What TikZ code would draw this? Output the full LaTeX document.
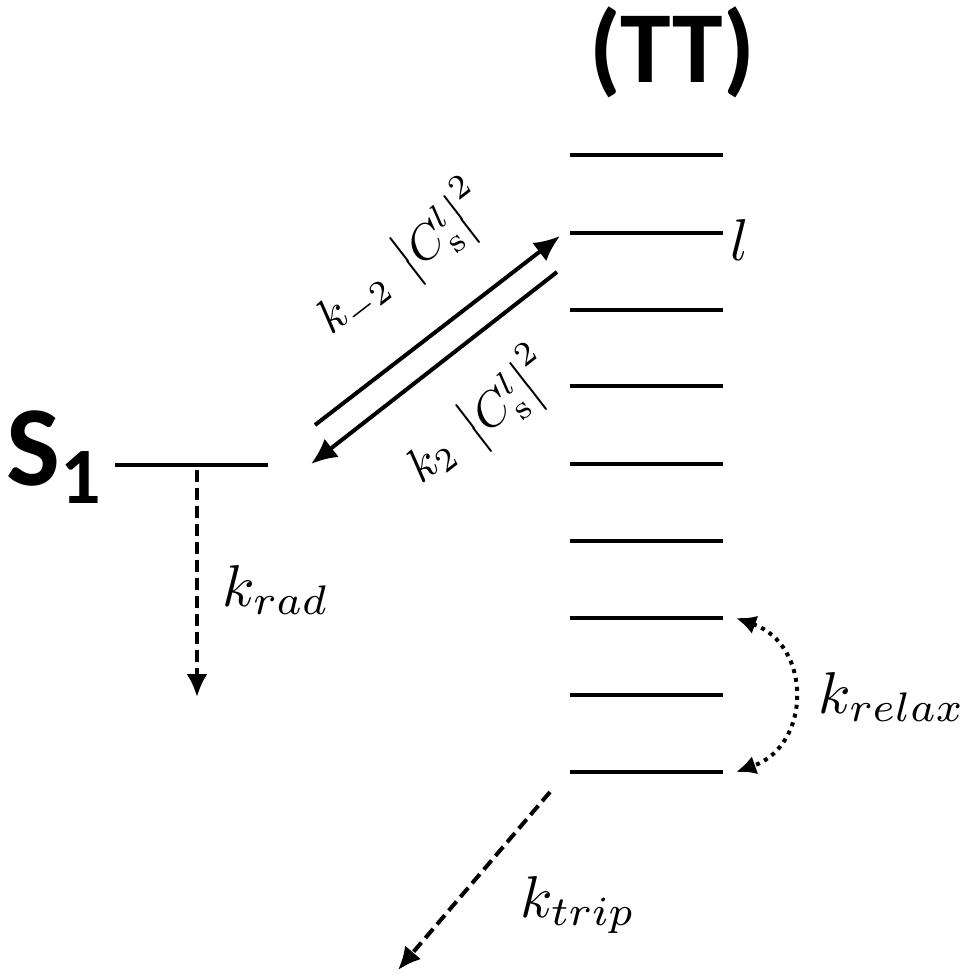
\documentclass[tikz,border=0pt]{standalone}
\usepackage{fontspec}
\newfontfamily\calib{Carlito}
\usetikzlibrary{arrows.meta}
\newcommand{\bigmlab}[1]{\scalebox{5.9}{$#1$}}
\tikzset{
  level/.style={line width=4pt},
  solidarrow/.style={line width=4pt,-{Latex[length=26pt,width=23pt]}},
  dasharrow/.style={line width=4pt,dash pattern=on 12pt off 6pt,-{Latex[length=23pt,width=21pt]}},
  dotarrow/.style={line width=4pt,dash pattern=on 4pt off 5pt,{Latex[length=20pt,width=19pt]}-{Latex[length=20pt,width=19pt]}},
  mlabel/.style={inner sep=0pt},
  dlabel/.style={inner sep=0pt,rotate=37.7},
}
\begin{document}
\begin{tikzpicture}[x=1pt,y=-1pt]
\useasboundingbox (0,0) rectangle (974,978);
% TT levels
\foreach \i/\yy in {1/155,2/233,3/310,4/386,5/464,6/541,7/618,8/695,9/772}{
  \coordinate (L\i a) at (570,\yy);
  \coordinate (L\i b) at (723,\yy);
  \draw[level] (L\i a) -- (L\i b);
}
% S1 level
\coordinate (S1a) at (115,465);
\coordinate (S1b) at (268,465);
\draw[level] (S1a) -- (S1b);
\node[inner sep=0pt,anchor=base west,font=\calib\bfseries\fontsize{114}{118}\selectfont] (S1label) at (6,485) {S\raisebox{-0.16em}{\fontsize{80}{82}\selectfont 1}};
\node[inner sep=0pt,font=\calib\bfseries\fontsize{102}{106}\selectfont] (TTlabel) at (672,52) {(TT)};
\node[mlabel,anchor=west] (llabel) at (730,240) {\bigmlab{l}};
% diagonal arrows
\coordinate (u1) at (315,425);
\coordinate (u2) at (560,236);
\coordinate (d1) at (557,272);
\coordinate (d2) at (311,464);
\draw[solidarrow] (u1) -- (u2);
\draw[solidarrow] (d1) -- (d2);
\node[dlabel] (lab1) at (402,260) {\scalebox{4.8}{$k_{-2}\;\left|C_{\mathrm{s}}^{l}\right|^{2}$}};
\node[dlabel] (lab2) at (480,418) {\scalebox{4.8}{$k_{2}\;\left|C_{\mathrm{s}}^{l}\right|^{2}$}};
% k_rad
\coordinate (r1) at (197,470);
\coordinate (r2) at (197,697);
\draw[dasharrow] (r1) -- (r2);
\node[mlabel] (krad) at (276,590) {\bigmlab{k_{rad}}};
% k_relax
\coordinate (x1) at (736,618);
\coordinate (x2) at (736,772);
\draw[dotarrow] (x1) .. controls (812,645) and (812,745) .. (x2);
\node[mlabel] (krelax) at (892,697) {\bigmlab{k_{relax}}};
% k_trip
\coordinate (t1) at (550,792);
\coordinate (t2) at (398,970);
\draw[dasharrow] (t1) -- (t2);
\node[mlabel] (ktrip) at (578,905) {\bigmlab{k_{trip}}};
\end{tikzpicture}
\end{document}
